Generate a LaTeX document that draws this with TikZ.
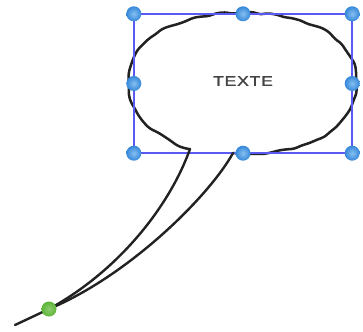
\documentclass[tikz,border=0pt]{standalone}
\usepackage{fontspec}
\setmainfont{Liberation Sans}
\usetikzlibrary{decorations.pathmorphing}
\definecolor{selblue}{HTML}{5A5AF2}
\definecolor{hdlblue}{HTML}{3587DA}
\definecolor{hdllight}{HTML}{86C0F0}
\definecolor{hdlgreen}{HTML}{5DB536}
\definecolor{inkgray}{HTML}{222222}
\tikzset{
  wobbly/.style={draw=inkgray, line width=2.5pt, line join=round, line cap=round,
    decorate, decoration={random steps, segment length=8pt, amplitude=1.2pt}, rounded corners=3pt},
  tailline/.style={draw=inkgray, line width=2.4pt, line cap=round},
  selbox/.style={draw=selblue, line width=1.5pt},
  handle/.style={circle, minimum size=15pt, inner sep=0pt, inner color=hdllight, outer color=hdlblue},
  ghandle/.style={circle, minimum size=15pt, inner sep=0pt, inner color=hdlgreen!70!white, outer color=hdlgreen},
  label/.style={font=\fontsize{14}{15}\selectfont\addfontfeature{FakeStretch=1.25,LetterSpace=6,FakeBold=1.5}, text=inkgray!85!white}
}
\begin{document}
\begin{tikzpicture}[x=1pt, y=-1pt]
\useasboundingbox[fill=white] (0,0) rectangle (363,331);
\pgfmathsetseed{7}
% tail anchor points
\coordinate (tl) at (190,149);
\coordinate (tr) at (233,153);
\coordinate (tip) at (15,325);
\coordinate (gp) at (49,309);
% cloud body
\path[wobbly] (tr) -- (243,154) .. controls (311,154) and (356,126) .. (356,83)
  .. controls (356,40) and (311,13) .. (243,13)
  .. controls (175,13) and (129,40) .. (129,83)
  .. controls (129,115) and (160,140) .. (tl);
% selection box
\node[draw=none, inner sep=0pt, minimum width=218pt, minimum height=139pt] (sel) at (243,83.5) {};
\draw[selbox] (sel.north west) rectangle (sel.south east);
% text
\node[label] (txt) at (243,81) {TEXTE};
% tail
\draw[tailline] (tl) .. controls (170,205) and (120,270) .. (gp);
\draw[tailline] (tr) .. controls (210,195) and (130,275) .. (gp);
\draw[tailline] (gp) -- (tip);
% green handle
\node[ghandle] (g) at (gp) {};
% blue handles
\node[handle] (h1) at (sel.north west) {};
\node[handle] (h2) at (sel.north) {};
\node[handle] (h3) at (sel.north east) {};
\node[handle] (h4) at (sel.west) {};
\node[handle] (h5) at (sel.east) {};
\node[handle] (h6) at (sel.south west) {};
\node[handle] (h7) at (sel.south) {};
\node[handle] (h8) at (sel.south east) {};
\end{tikzpicture}
\end{document}
